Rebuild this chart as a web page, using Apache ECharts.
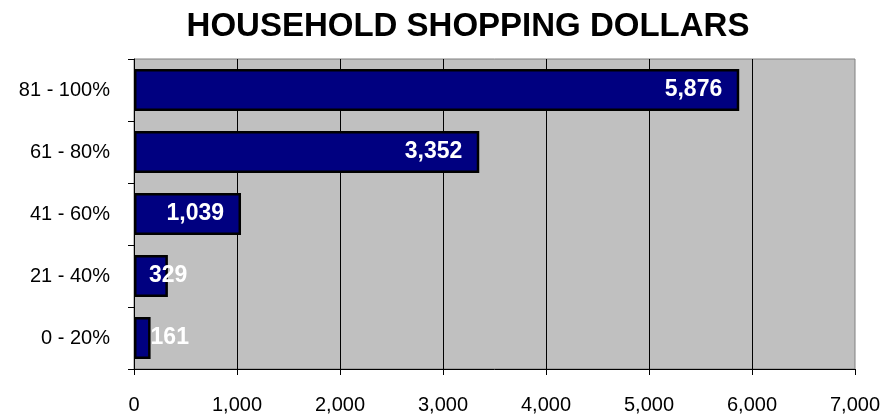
<!DOCTYPE html>
<html>
<head>
<meta charset="utf-8">
<script src="https://cdn.jsdelivr.net/npm/echarts@6/dist/echarts.min.js"></script>
<style>html,body{margin:0;padding:0;background:#fff}#c{width:886px;height:415px}</style>
</head>
<body>
<div id="c"></div>
<script>
const titleText = 'HOUSEHOLD SHOPPING DOLLARS';
const categories = ['0 - 20%', '21 - 40%', '41 - 60%', '61 - 80%', '81 - 100%'];
const values = [161, 329, 1039, 3352, 5876];
const xMin = 0, xMax = 7000, xStep = 1000;

const FONT = 'Arial, "Liberation Sans", sans-serif';
const fmt = v => Number(v).toLocaleString('en-US');

const labelStyles = {
  161: { position: 'right', distance: 0, offset: [0, 0] },
  329: { position: 'right', distance: 0, offset: [-19, 0] }
};

const seriesData = values.map(v => {
  const ls = labelStyles[v] || { position: 'insideRight', distance: 17, offset: [0, 0] };
  return { value: v, label: ls };
});

const chart = echarts.init(document.getElementById('c'), null, { renderer: 'canvas' });
chart.setOption({
  animation: false,
  backgroundColor: '#fff',
  title: {
    text: titleText,
    left: 468,
    textAlign: 'center',
    top: 10,
    padding: 0,
    textStyle: { fontFamily: FONT, fontSize: 33, fontWeight: 'bold', color: '#000' }
  },
  grid: {
    left: 134, right: 31, top: 59, bottom: 46,
    show: true, backgroundColor: '#C0C0C0', borderColor: '#808080', borderWidth: 1
  },
  xAxis: {
    type: 'value', min: xMin, max: xMax, interval: xStep,
    axisLine: { show: true, lineStyle: { color: '#000', width: 1 } },
    axisTick: { show: true, length: 6, lineStyle: { color: '#000' } },
    axisLabel: { formatter: fmt, fontFamily: FONT, fontSize: 20, color: '#000', margin: 26 },
    splitLine: { show: true, showMinLine: false, showMaxLine: false, lineStyle: { color: '#000', width: 1 } }
  },
  yAxis: {
    type: 'category', data: categories,
    axisLine: { show: true, lineStyle: { color: '#000', width: 1 } },
    axisTick: { show: true, length: 6, lineStyle: { color: '#000' } },
    axisLabel: { fontFamily: FONT, fontSize: 20, color: '#000', margin: 24 },
    splitLine: { show: false }
  },
  series: [{
    type: 'bar',
    data: seriesData,
    barWidth: 42,
    itemStyle: { color: '#000080', borderColor: '#000', borderWidth: 2.5 },
    label: {
      show: true, formatter: p => fmt(p.value),
      fontFamily: FONT, fontSize: 23, fontWeight: 'bold', color: '#fff'
    }
  }]
});
</script>
</body>
</html>
